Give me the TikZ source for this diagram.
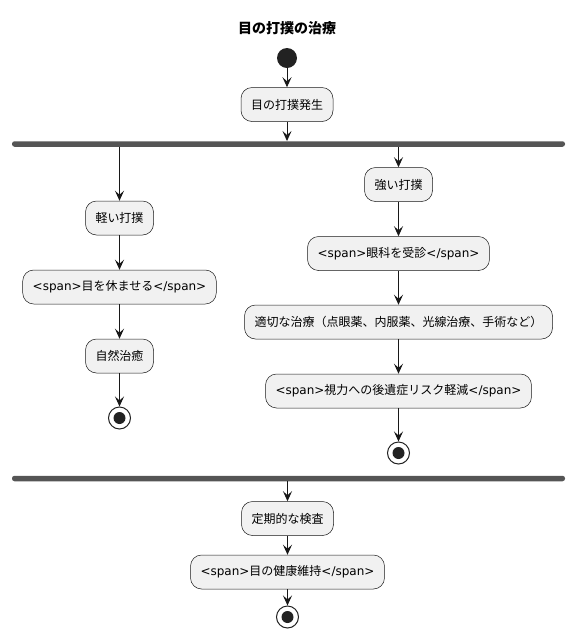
\documentclass[tikz,border=0pt]{standalone}
\usepackage{fontspec}
\setmainfont{DejaVu Sans}
\newfontfamily\jp{Noto Sans CJK JP}
\usetikzlibrary{arrows.meta}
\definecolor{boxfill}{HTML}{F1F1F1}
\definecolor{boxline}{HTML}{181818}
\definecolor{barcol}{HTML}{555555}
\definecolor{dotcol}{HTML}{222222}
\tikzset{
  act/.style={draw=boxline, line width=0.5pt, fill=boxfill, rounded corners=11pt,
    minimum height=34pt, inner xsep=10pt, font=\fontsize{12pt}{14pt}\selectfont},
  bar/.style={fill=barcol, rounded corners=2.5pt, minimum width=553pt, minimum height=5.5pt, inner sep=0pt},
  startdot/.style={circle, fill=dotcol, minimum size=20pt, inner sep=0pt},
  stopdot/.style={circle, draw=dotcol, line width=1pt, fill=white, minimum size=22pt, inner sep=0pt,
    path picture={\fill[dotcol] (path picture bounding box.center) circle (6pt);}},
  flow/.style={-{Stealth[length=10pt,width=9pt,inset=4pt]}, line width=1pt, draw=boxline},
}
\begin{document}
\begin{tikzpicture}[x=1pt,y=-1pt]
\useasboundingbox (0,0) rectangle (574,641);
\node[font=\fontsize{14pt}{16pt}\selectfont\jp\bfseries] (title) at (287,28) {目の打撲の治療};
\node[startdot] (start) at (287,58) {};
\node[act] (a1) at (287,104.5) {\jp 目の打撲発生};
\node[bar] (fork) at (288.5,144) {};
% left branch
\node[act] (l1) at (119.5,218) {\jp 軽い打撲};
\node[act] (l2) at (119.5,287) {<span>{\jp 目を休ませる}</span>};
\node[act] (l3) at (119.5,356) {\jp 自然治癒};
\node[stopdot] (lend) at (119.5,418) {};
% right branch
\node[act] (r1) at (398.5,184.5) {\jp 強い打撲};
\node[act] (r2) at (398.5,253.5) {<span>{\jp 眼科を受診}</span>};
\node[act] (r3) at (398.5,322) {\jp 適切な治療（点眼薬、内服薬、光線治療、手術など）};
\node[act] (r4) at (398.5,391) {<span>{\jp 視力への後遺症リスク軽減}</span>};
\node[stopdot] (rend) at (398.5,453) {};
\node[bar] (join) at (288.5,478.5) {};
\node[act] (b1) at (287.5,518.5) {\jp 定期的な検査};
\node[act] (b2) at (287.5,572) {<span>{\jp 目の健康維持}</span>};
\node[stopdot] (bend) at (287.5,617) {};
% connectors
\draw[flow] (start) -- (a1);
\draw[flow] (a1) -- (a1.south |- fork.north);
\draw[flow] (fork.south -| l1.north) -- (l1);
\draw[flow] (l1) -- (l2);
\draw[flow] (l2) -- (l3);
\draw[flow] (l3) -- (lend);
\draw[flow] (fork.south -| r1.north) -- (r1);
\draw[flow] (r1) -- (r2);
\draw[flow] (r2) -- (r3);
\draw[flow] (r3) -- (r4);
\draw[flow] (r4) -- (rend);
\draw[flow] (join.south -| b1.north) -- (b1);
\draw[flow] (b1) -- (b2);
\draw[flow] (b2) -- (bend);
\end{tikzpicture}
\end{document}
